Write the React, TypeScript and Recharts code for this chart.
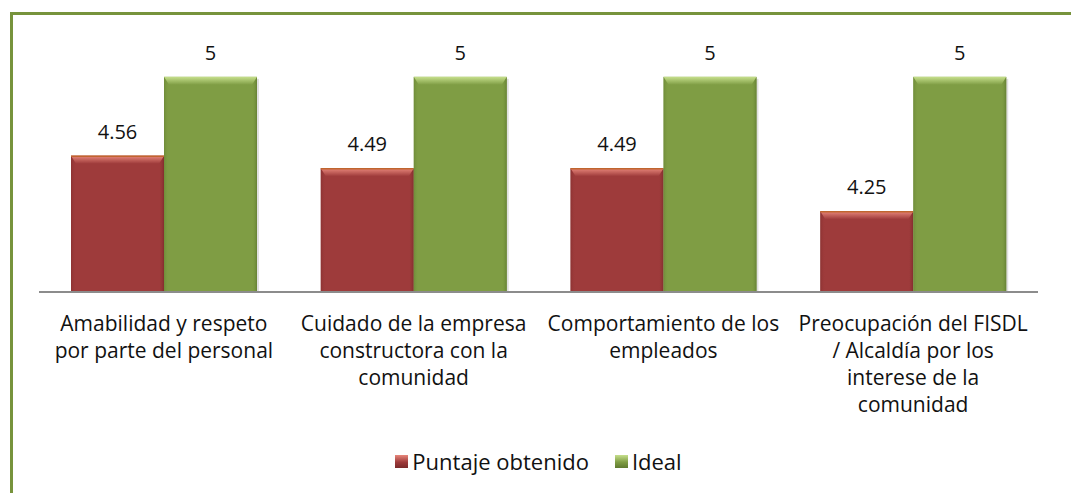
import { BarChart, Bar, XAxis, YAxis, Legend, LabelList, Text } from 'recharts';

const categories = [
  'Amabilidad y respeto\npor parte del personal',
  'Cuidado de la empresa\nconstructora con la\ncomunidad',
  'Comportamiento de los\nempleados',
  'Preocupación del FISDL\n/ Alcaldía por los\ninterese de la\ncomunidad',
];
const puntaje = [4.56, 4.49, 4.49, 4.25];
const ideal = [5, 5, 5, 5];
const seriesNames = ['Puntaje obtenido', 'Ideal'];

const data = categories.map((name, i) => ({ name, puntaje: puntaje[i], ideal: ideal[i] }));

const FONT = "'Open Sans', 'Noto Sans', sans-serif";

const PALETTE = {
  red: { base: '#9e3b3b', light: '#e8877b', dark: '#7a2a2a', edge: '#c0652f' },
  green: { base: '#7f9d44', light: '#c6df8c', dark: '#5f7a2f', edge: '#7f9d44' },
};

function makeShape(kind: 'red' | 'green') {
  const c = PALETTE[kind];
  return (props: any) => {
    const { x, y, width: w, height: h } = props;
    if (!w || !h) return <g />;
    const b = 8;
    const s = 5;
    return (
      <g>
        <rect x={x + 2} y={y + 2} width={w} height={h - 2} fill="#000" opacity={0.12} />
        <rect x={x} y={y} width={w} height={h} fill={c.base} />
        <polygon points={`${x},${y} ${x + s},${y + b} ${x + s},${y + h} ${x},${y + h}`} fill={`url(#left-${kind})`} />
        <polygon points={`${x + w},${y} ${x + w - s},${y + b} ${x + w - s},${y + h} ${x + w},${y + h}`} fill={`url(#right-${kind})`} />
        <polygon points={`${x},${y} ${x + w},${y} ${x + w - s},${y + b} ${x + s},${y + b}`} fill={`url(#top-${kind})`} />
        {kind === 'red' && <line x1={x} y1={y + 0.5} x2={x + w} y2={y + 0.5} stroke={c.edge} strokeWidth={1.5} />}
      </g>
    );
  };
}

const CategoryTick = (props: any) => {
  const { x, y, payload } = props;
  const lines: string[] = String(payload.value).split('\n');
  return (
    <g>
      {lines.map((line, i) => (
        <Text key={i} x={x} y={y + i * 27} textAnchor="middle" verticalAnchor="start" fontSize={21} fontFamily={FONT} fill="#111">
          {line}
        </Text>
      ))}
    </g>
  );
};

const LegendContent = () => (
  <div style={{ display: 'flex', justifyContent: 'center', gap: 26, fontFamily: FONT, fontSize: 22, color: '#111' }}>
    {seriesNames.map((n, i) => {
      const c = i === 0 ? PALETTE.red : PALETTE.green;
      return (
        <div key={n} style={{ display: 'flex', alignItems: 'center' }}>
          <span
            style={{
              display: 'inline-block',
              width: 13,
              height: 13,
              marginRight: 4,
              background: `linear-gradient(${c.light}, ${c.base} 55%, ${c.dark})`,
            }}
          />
          {n}
        </div>
      );
    })}
  </div>
);

export default function App() {
  return (
    <div style={{ position: 'absolute', left: 0, top: 0, width: 1071, height: 493, overflow: 'hidden', background: '#fff' }}>
      <div
        style={{
          position: 'absolute',
          left: 10,
          top: 12,
          width: 1100,
          height: 520,
          border: '3px solid #77933c',
          boxSizing: 'border-box',
        }}
      />
      <div style={{ position: 'absolute', left: 0, top: 0 }}>
        <BarChart
          width={1071}
          height={493}
          data={data}
          margin={{ top: 41, right: 33, left: 39, bottom: 17 }}
          barGap={0}
          barCategoryGap={32}
        >
          <defs>
            {(['red', 'green'] as const).map((k) => (
              <g key={k}>
                <linearGradient id={`top-${k}`} x1="0" y1="0" x2="0" y2="1">
                  <stop offset="0%" stopColor={PALETTE[k].light} />
                  <stop offset="100%" stopColor={PALETTE[k].base} />
                </linearGradient>
                <linearGradient id={`left-${k}`} x1="0" y1="0" x2="1" y2="0">
                  <stop offset="0%" stopColor={PALETTE[k].dark} stopOpacity={0.5} />
                  <stop offset="100%" stopColor={PALETTE[k].base} stopOpacity={0} />
                </linearGradient>
                <linearGradient id={`right-${k}`} x1="1" y1="0" x2="0" y2="0">
                  <stop offset="0%" stopColor={PALETTE[k].dark} stopOpacity={0.8} />
                  <stop offset="100%" stopColor={PALETTE[k].base} stopOpacity={0} />
                </linearGradient>
              </g>
            ))}
          </defs>
          <XAxis
            dataKey="name"
            height={154}
            interval={0}
            tickLine={false}
            axisLine={{ stroke: '#8c8c8c', strokeWidth: 2 }}
            tick={<CategoryTick />}
            tickMargin={18}
          />
          <YAxis hide domain={[3.8, 5.2]} allowDataOverflow />
          <Legend verticalAlign="bottom" content={<LegendContent />} wrapperStyle={{ height: 30 }} />
          <Bar dataKey="puntaje" name={seriesNames[0]} fill={PALETTE.red.base} shape={makeShape('red')} isAnimationActive={false}>
            <LabelList dataKey="puntaje" position="top" offset={17} fontSize={20} fontFamily={FONT} fill="#111" />
          </Bar>
          <Bar dataKey="ideal" name={seriesNames[1]} fill={PALETTE.green.base} shape={makeShape('green')} isAnimationActive={false}>
            <LabelList dataKey="ideal" position="top" offset={17} fontSize={20} fontFamily={FONT} fill="#111" />
          </Bar>
        </BarChart>
      </div>
    </div>
  );
}
